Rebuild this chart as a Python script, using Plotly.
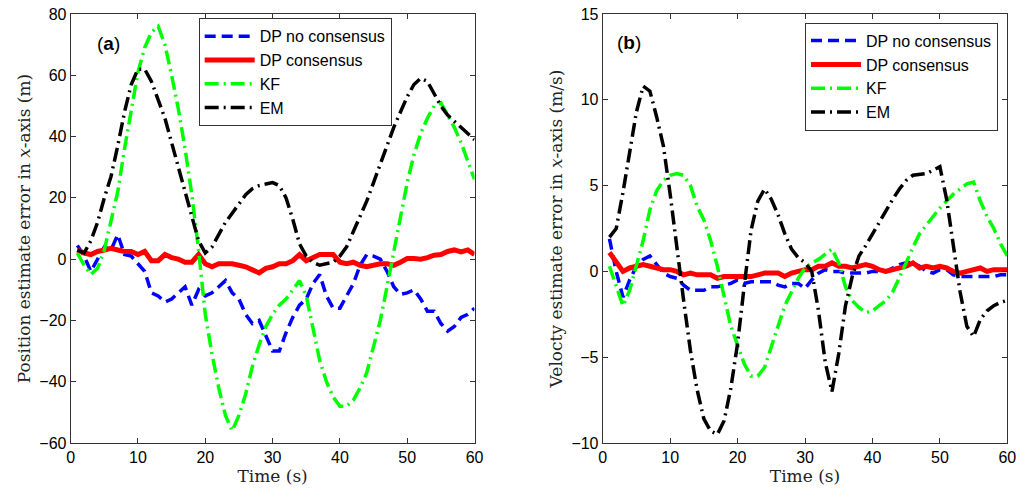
import plotly.graph_objects as go

# time axis (s)
t = list(range(1, 61))

# (a) position estimate error in x-axis (m)
pos_dp_nocons = [4.5, 1, -4, 0, 4, 3, 8, 1.5, 1, -1.5,
                 -4, -11, -12, -14, -13, -11, -9, -15, -10, -12,
                 -11, -9, -7, -11, -13, -18, -21, -20, -25, -30,
                 -30, -24, -19, -15, -13, -8, -5, -12, -16, -16,
                 -12, -8, -2, 1.5, 1, 0, -4, -9, -11.5, -11,
                 -10, -13, -17, -17, -21, -23.5, -22, -19, -18, -16]
pos_dp_cons = [3, 2, 1.5, 2.5, 3, 3.5, 3, 2.5, 2.5, 1.5,
               2.5, -0.5, -0.5, 1.5, 0.5, 0, -1, -1, 1.5, -1.5,
               -2.5, -1.5, -1.5, -1.5, -2, -2.5, -3.5, -4.5, -3, -2.5,
               -1.5, -1.5, -0.5, 1.5, -0.5, 0.5, 1.5, 1.5, 1.5, -1,
               -1.5, -1, -2, -2.5, -2, -1.5, -1.5, -2, -1, 0.2,
               0.2, 0, 0.5, 1.3, 1.5, 2.5, 3, 2.4, 3, 1.5]
pos_kf = [2, -2, -5, -3, 3, 12, 22, 36, 49, 61,
          69, 74, 76, 70, 60, 49, 36, 21, 3, -18,
          -31, -42, -51, -56, -51, -44, -35, -28, -22, -18,
          -15, -13, -10, -7, -12, -22, -33, -40, -45, -48,
          -48, -46, -42, -37, -29, -20, -9, 2, 13, 25,
          34, 41, 46, 50, 51, 47, 43, 38, 32, 26]
pos_em = [3, 2, 6, 12, 20, 27, 37, 48, 57, 62,
          62, 58, 52, 46, 38, 30, 22, 14, 6, 2,
          4, 8, 12, 15, 18, 21, 23, 24, 24.5, 25,
          24, 20, 13, 5, 1, -1, -2, -1.5, -1, 1,
          4, 9, 14, 19, 25, 31, 37, 43, 48, 53,
          57, 59, 58, 54, 50, 47, 45, 43, 41, 39]

# (b) velocity estimate error in x-axis (m/s)
vel_dp_nocons = [1.9, 0.0, -1.5, -0.5, 0.3, 0.7, 0.9, 0.4, -0.1, -0.3,
                 -0.4, -0.8, -1.1, -1.1, -1.1, -0.9, -0.9, -0.8, -0.7, -0.5,
                 -0.7, -0.6, -0.6, -0.6, -0.6, -0.8, -0.9, -0.7, -0.7, -1.0,
                 -0.5, -0.1, 0.1, 0.0, 0.0, -0.1, -0.1, -0.1, -0.1, 0.0,
                 0.0, 0.0, 0.2, 0.4, 0.5, 0.5, 0.3, 0.0, -0.1, 0.1,
                 0.1, -0.2, -0.3, -0.3, -0.3, -0.3, -0.3, -0.3, -0.2, -0.2]
vel_dp_cons = [1.1, 0.5, 0.0, 0.2, 0.3, 0.4, 0.3, 0.2, 0.1, 0.1,
               0.0, -0.2, -0.1, -0.2, -0.2, -0.2, -0.4, -0.3, -0.3, -0.3,
               -0.3, -0.3, -0.2, -0.1, -0.1, -0.1, -0.3, -0.1, 0.0, 0.1,
               0.1, 0.3, 0.3, 0.5, 0.3, 0.3, 0.2, 0.3, 0.4, 0.3,
               0.1, 0.0, 0.1, 0.2, 0.3, 0.5, 0.2, 0.3, 0.2, 0.3,
               0.2, 0.0, -0.1, 0.0, 0.1, 0.2, 0.0, 0.1, 0.1, 0.1]
vel_kf = [0.3, -0.8, -2.0, -1.1, 0.3, 1.8, 3.6, 4.7, 5.3, 5.6,
          5.7, 5.6, 5.0, 3.8, 3.0, 1.8, 0.3, -1.5, -3.2, -4.3,
          -5.4, -6.1, -6.1, -5.6, -4.4, -3.2, -2.0, -1.2, -0.4, 0.2,
          0.5, 0.7, 1.0, 1.3, 0.5, -0.9, -1.7, -2.1, -2.4, -2.3,
          -2.0, -1.7, -1.2, -0.4, 0.5, 1.4, 2.2, 2.7, 3.2, 3.7,
          4.1, 4.5, 4.8, 5.1, 5.2, 4.1, 3.2, 2.5, 1.6, 0.9]
vel_em = [2.0, 2.5, 4.6, 7.0, 9.3, 10.8, 10.5, 9.0, 7.3, 4.5,
          1.2, -1.7, -4.6, -6.9, -8.6, -9.3, -9.5, -8.7, -6.8, -4.2,
          -0.8, 2.4, 4.1, 4.8, 4.2, 3.3, 2.2, 1.3, 0.8, 0.5,
          0.0, -2.3, -5.3, -7.0, -4.8, -2.0, -0.3, 0.9, 1.5, 2.2,
          2.9, 3.6, 4.2, 4.8, 5.3, 5.6, 5.65, 5.7, 5.9, 6.1,
          4.2, 1.5, -1.2, -3.2, -3.8, -2.8, -2.3, -2.0, -1.8, -1.7]

names = ["DP no consensus", "DP consensus", "KF", "EM"]
styles = [dict(color="#0000ff", width=3.5, dash="11px,6px"),
          dict(color="#ff0000", width=5),
          dict(color="#00ff00", width=3.5, dash="14px,5px,2px,5px"),
          dict(color="#000000", width=3.5, dash="14px,5px,2px,5px")]

fig = go.Figure()

panels = [
    ([pos_dp_nocons, pos_dp_cons, pos_kf, pos_em], "x", "y", "legend"),
    ([vel_dp_nocons, vel_dp_cons, vel_kf, vel_em], "x2", "y2", "legend2"),
]
for series, xa, ya, leg in panels:
    for name, vals, ln in zip(names, series, styles):
        fig.add_trace(go.Scatter(x=t, y=vals, mode="lines", name=name,
                                 line=ln, xaxis=xa, yaxis=ya, legend=leg))

axis_common = dict(showline=True, linecolor="#333333", linewidth=1, mirror="ticks",
                   ticks="inside", ticklen=5, tickcolor="#333333",
                   showgrid=False, zeroline=False, automargin=False,
                   ticklabeloverflow="allow",
                   tickfont=dict(family="Liberation Sans", size=16, color="black"))
title_font = dict(family="DejaVu Serif", size=17, color="#222222")

legend_common = dict(bgcolor="white", bordercolor="#333333", borderwidth=1,
                     font=dict(family="Liberation Sans", size=16, color="black"),
                     itemwidth=50, xanchor="right", yanchor="top", tracegroupgap=0)

fig.update_layout(
    width=1024, height=500,
    margin=dict(l=0, r=0, t=0, b=0),
    paper_bgcolor="white", plot_bgcolor="white",
    xaxis=dict(domain=[0.069, 0.4634], range=[0, 60], dtick=10,
               title=dict(text="Time (s)", font=title_font, standoff=4), **axis_common),
    yaxis=dict(domain=[0.114, 0.972], range=[-60, 80], dtick=20,
               title=dict(text="Position estimate error in <i>x</i>-axis (m)",
                          font=title_font, standoff=4), **axis_common),
    xaxis2=dict(domain=[0.5886, 0.9837], range=[0, 60], dtick=10, anchor="y2",
                title=dict(text="Time (s)", font=title_font, standoff=4), **axis_common),
    yaxis2=dict(domain=[0.114, 0.972], range=[-10, 15], dtick=5, anchor="x2",
                title=dict(text="Velocty estimate error in <i>x</i>-axis (m/s)",
                           font=title_font, standoff=4), **axis_common),
    legend=dict(x=0.3825, y=0.9634, **legend_common),
    legend2=dict(x=0.9746, y=0.9546, **legend_common),
    annotations=[
        dict(text="(<b>a</b>)", x=0.0928, y=0.938, xref="paper", yref="paper",
             showarrow=False, font=dict(family="Liberation Sans", size=19, color="black")),
        dict(text="(<b>b</b>)", x=0.6138, y=0.941, xref="paper", yref="paper",
             showarrow=False, font=dict(family="Liberation Sans", size=19, color="black")),
    ],
)

# drop the default 8px body margin so the figure sits at the page corner
fig.write_html("out.html", config={"displayModeBar": False},
               post_script="document.body.style.margin='0px';")
